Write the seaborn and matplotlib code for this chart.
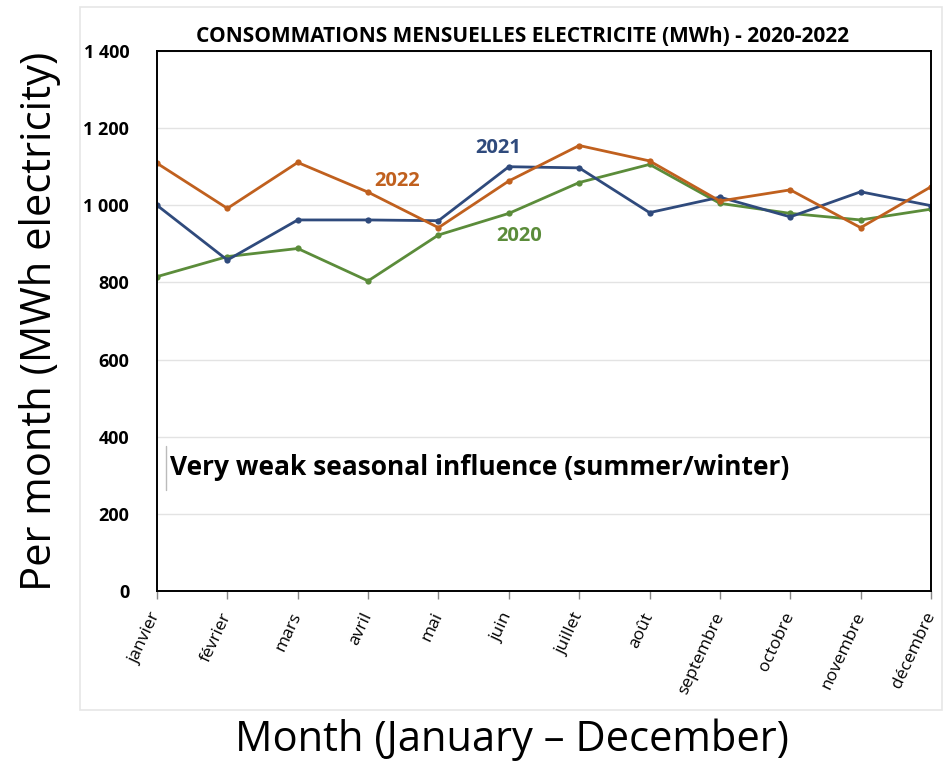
import pandas as pd
import matplotlib
matplotlib.use('Agg')
import matplotlib.pyplot as plt
import matplotlib.ticker as mticker
from matplotlib.patches import Rectangle
import seaborn as sns

# donnees (MWh)
mois = ['janvier', 'février', 'mars', 'avril', 'mai', 'juin', 'juillet', 'août',
        'septembre', 'octobre', 'novembre', 'décembre']
conso_2020 = [815, 867, 888, 804, 923, 979, 1059, 1106, 1005, 979, 962, 990]
conso_2021 = [1000, 858, 962, 962, 960, 1100, 1097, 981, 1021, 970, 1035, 999]
conso_2022 = [1109, 992, 1111, 1034, 942, 1063, 1155, 1115, 1011, 1040, 942, 1048]
annees = ['2020', '2021', '2022']
couleurs = {'2020': '#5B8C3A', '2021': '#2F4A7C', '2022': '#C0601E'}

frames = pd.DataFrame({
    'mois': mois * 3,
    'idx': list(range(12)) * 3,
    'annee': [a for a in annees for _ in range(12)],
    'mwh': conso_2020 + conso_2021 + conso_2022,
})

sns.set_theme(style="white")
plt.rcParams['font.family'] = ['Open Sans', 'DejaVu Sans']

fig = plt.figure(figsize=(9.43, 7.62), dpi=100)
# cadre gris clair de l'image collee
fig.patches.append(Rectangle((80 / 943, 52 / 762), 862 / 943, 703 / 762,
                             transform=fig.transFigure, fill=False,
                             edgecolor='#E6E6E6', linewidth=1.2))
ax = fig.add_axes([157 / 943, 171 / 762, 774 / 943, 540 / 762])

sns.lineplot(data=frames, x='idx', y='mwh', hue='annee', palette=couleurs,
             marker='o', markersize=4.5, markeredgewidth=0, linewidth=2,
             legend=False, ax=ax)

ax.set_xlim(0, 11)
ax.set_ylim(0, 1400)
ax.set_yticks(range(0, 1401, 200))
ax.yaxis.set_major_formatter(mticker.FuncFormatter(lambda y, _: '{:,.0f}'.format(y).replace(",", " ")))
ax.set_xticks(range(12))
ax.set_xticklabels(mois, rotation=65, ha='right', va='center', rotation_mode='anchor',
                   fontsize=12.5, color='black')
for lab in ax.get_yticklabels():
    lab.set_fontweight('bold')
    lab.set_fontsize(13)
    lab.set_color('black')
ax.grid(axis='y', color='#E3E3E3', linewidth=1)
ax.tick_params(axis='x', length=6, width=1, color='#888888', bottom=True, pad=10)
ax.tick_params(axis='y', length=0, pad=20)
for s in ax.spines.values():
    s.set_color('black')
    s.set_linewidth(1.4)

ax.set_xlabel('')
ax.set_ylabel('Per month (MWh electricity)', fontsize=30, labelpad=16, color='black')
fig.text(512 / 943, 1 - 740 / 762, 'Month (January – December)', fontsize=30,
         ha='center', va='center', color='black')
fig.text(522 / 943, 1 - 37 / 762, 'CONSOMMATIONS MENSUELLES ELECTRICITE (MWh) - 2020-2022',
         fontsize=15, fontweight='bold', ha='center', va='center', color='black')

ax.text(4.85, 1149, '2021', color=couleurs['2021'], fontsize=14.5, fontweight='bold', ha='center', va='center')
ax.text(3.41, 1063, '2022', color=couleurs['2022'], fontsize=14.5, fontweight='bold', ha='center', va='center')
ax.text(5.15, 920, '2020', color=couleurs['2020'], fontsize=14.5, fontweight='bold', ha='center', va='center')

ax.text(0.18, 321, 'Very weak seasonal influence (summer/winter)', fontsize=19,
        fontweight='bold', color='black', ha='left', va='center')
ax.plot([0.13, 0.13], [262, 375], color='#BBBBBB', linewidth=1)

fig.savefig('out.png', dpi=100)
